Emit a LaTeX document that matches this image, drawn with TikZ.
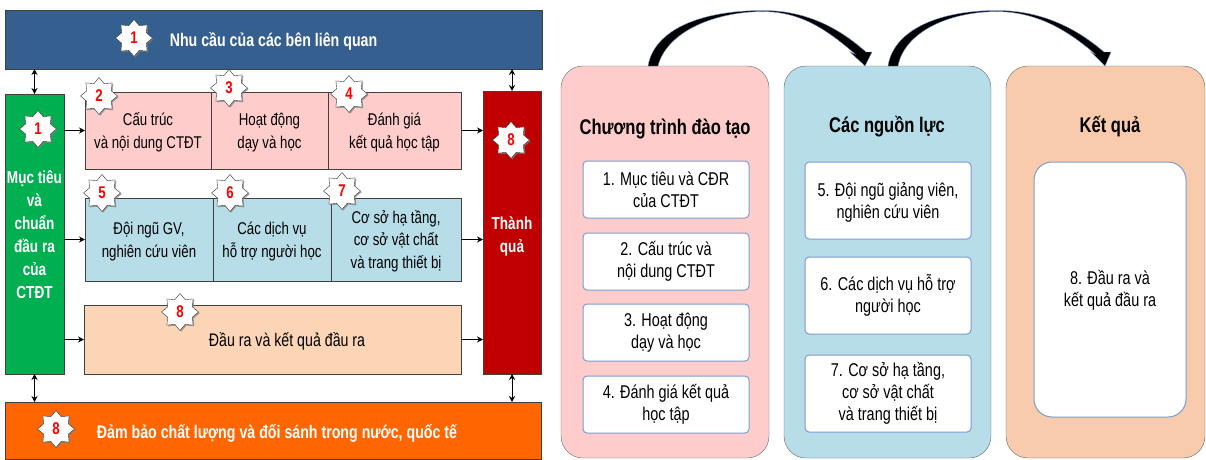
\documentclass[tikz,border=0pt]{standalone}
\usepackage{fontspec}
\setmainfont[FakeStretch=0.78]{Liberation Sans}
\usetikzlibrary{arrows.meta,shapes.geometric,shadows}
\definecolor{needsblue}{HTML}{355F8F}
\definecolor{goalgreen}{HTML}{00B050}
\definecolor{resultred}{HTML}{C00000}
\definecolor{qualityorange}{HTML}{FF6600}
\definecolor{rowpink}{HTML}{FFCCCC}
\definecolor{rowblue}{HTML}{B7DDE8}
\definecolor{rowpeach}{HTML}{FBD5B5}
\definecolor{panelpeach}{HTML}{F8CBAD}
\definecolor{innerline}{HTML}{7C9BD0}
\newcommand{\topgap}[1]{\rule{0pt}{#1pt}}
\tikzset{>={Stealth[length=6pt,width=6pt]}}
\tikzstyle{block} = [draw=black!75, inner sep=1pt, outer sep=0pt, align=center, font=\fontsize{17}{23.5}\selectfont]
\tikzstyle{whiteblock} = [block, text=white, font=\fontsize{17.4}{23}\selectfont\bfseries]
\tikzstyle{badge} = [star, star points=8, star point ratio=1.38, minimum size=37pt, inner sep=0pt, draw=black!80, fill=white, text=red, font=\fontsize{17}{17}\selectfont\bfseries, drop shadow={shadow xshift=1.2pt, shadow yshift=-1.2pt, opacity=.7}]
\tikzstyle{panel} = [draw=black!60, rounded corners=22pt, outer sep=0pt]
\tikzstyle{panelbox} = [draw=innerline, line width=1pt, fill=white, rounded corners=4pt, outer sep=0pt, inner sep=1pt, align=center, font=\fontsize{18.5}{22}\selectfont]
\tikzstyle{paneltitle} = [font=\fontsize{21.2}{21}\selectfont\bfseries]
\tikzstyle{link} = [line width=1pt]
\tikzstyle{bigcurve} = [fill=black, draw=innerline, line width=.4pt]

\begin{document}
\begin{tikzpicture}[x=1pt, y=-1pt]
\useasboundingbox (0,0) rectangle (1206,459);

% left part
\node [whiteblock, fill=needsblue, minimum width=537pt, minimum height=59pt, font=\fontsize{18.2}{20}\selectfont\bfseries] (needs) at (273.5,39.5) {\topgap{17}Nhu cầu của các bên liên quan};
\node [whiteblock, fill=goalgreen, minimum width=59pt, minimum height=280pt] (goal) at (34.5,234) {\topgap{15}Mục tiêu\\và\\chuẩn\\đầu ra\\của\\CTĐT};
\node [whiteblock, fill=resultred, minimum width=58pt, minimum height=283pt] (outcome) at (512,232.5) {\topgap{21}Thành\\quả};
\node [whiteblock, fill=qualityorange, minimum width=536pt, minimum height=57pt, font=\fontsize{18.2}{20}\selectfont\bfseries] (quality) at (273,430.5) {\topgap{19}\hspace*{8pt}Đảm bảo chất lượng và đối sánh trong nước, quốc tế};

\node [block, fill=rowpink, minimum width=126pt, minimum height=77pt] (structure) at (148,130.5) {\topgap{17}Cấu trúc\\và nội dung CTĐT};
\node [block, fill=rowpink, minimum width=117pt, minimum height=77pt] (teaching) at (269.5,130.5) {\topgap{17}Hoạt động\\dạy và học};
\node [block, fill=rowpink, minimum width=133pt, minimum height=77pt] (assess) at (394.5,130.5) {\topgap{17}Đánh giá\\kết quả học tập};

\node [block, fill=rowblue, minimum width=128pt, minimum height=83pt] (staff) at (149,239.5) {\topgap{17}Đội ngũ GV,\\nghiên cứu viên};
\node [block, fill=rowblue, minimum width=118pt, minimum height=83pt] (service) at (272,239.5) {\topgap{17}Các dịch vụ\\hỗ trợ người học};
\node [block, fill=rowblue, minimum width=130pt, minimum height=83pt, font=\fontsize{17}{22.5}\selectfont] (facility) at (396,239.5) {\topgap{16}Cơ sở hạ tầng,\\cơ sở vật chất\\và trang thiết bị};

\node [block, fill=rowpeach, minimum width=377pt, minimum height=69pt, font=\fontsize{18.2}{22}\selectfont] (output) at (272.5,339.5) {\topgap{18}\hspace*{29pt}Đầu ra và kết quả đầu ra};

\foreach \n/\px/\py [count=\i] in {1/134/38, 1/38/129, 2/99/96, 3/229/88, 4/349/94, 5/102/193, 6/230/193, 7/342/191, 8/511/140, 8/180/312, 8/56/429}
  \node [badge] (badge-\i) at (\px,\py) {\n};

\draw [link, <->] (goal.north) -- (goal.north |- needs.south);
\draw [link, <->] (outcome.north) -- (outcome.north |- needs.south);
\draw [link, <->] (goal.south) -- (goal.south |- quality.north);
\draw [link, <->] (outcome.south) -- (outcome.south |- quality.north);

\foreach \a in {structure,staff,output}
  \draw [link, ->] (goal.east |- \a.west) -- (\a.west);
\foreach \a in {assess,facility,output}
  \draw [link, ->] (\a.east) -- (\a.east -| outcome.west);

% right part
\node [panel, fill=rowpink, minimum width=208pt, minimum height=392pt] (program) at (665,262) {};
\node [panel, fill=rowblue, minimum width=207pt, minimum height=392pt] (resource) at (887.5,262) {};
\node [panel, fill=panelpeach, minimum width=199pt, minimum height=392pt] (result) at (1105.5,262) {};

\node [paneltitle] (program-title) at (665,129) {Chương trình đào tạo};
\node [paneltitle] (resource-title) at (887,127) {Các nguồn lực};
\node [paneltitle] (result-title) at (1110,127) {Kết quả};

\foreach \l/\py [count=\i] in {{1. Mục tiêu và CĐR\\của CTĐT}/189.5, {2. Cấu trúc và\\nội dung CTĐT}/261.5, {3. Hoạt động\\dạy và học}/332.5, {4. Đánh giá kết quả\\học tập}/404.5}
  \node [panelbox, minimum width=166pt, minimum height=57pt] (program-\i) at (666,\py) {\l};

\foreach \l/\py [count=\i] in {{\topgap{17}5. Đội ngũ giảng viên,\\nghiên cứu viên}/200.5, {\topgap{16}6. Các dịch vụ hỗ trợ\\người học}/295.5, {7. Cơ sở hạ tầng,\\cơ sở vật chất\\và trang thiết bị}/393.5}
  \node [panelbox, minimum width=166pt, minimum height=77pt] (resource-\i) at (888,\py) {\l};

\node [panelbox, rounded corners=18pt, minimum width=152pt, minimum height=255pt] (result-1) at (1110,289.5) {\topgap{16}8. Đầu ra và\\kết quả đầu ra};

\coordinate (curve-a) at ([xshift=-17pt]program.north);
\coordinate (curve-b) at ([xshift=-7pt]program.north);
\coordinate (curve-c) at ([xshift=-22.5pt]resource.north);
\coordinate (curve-d) at ([xshift=0.5pt]resource.north);
\coordinate (curve-e) at ([xshift=10.5pt]resource.north);
\coordinate (curve-f) at ([xshift=-0.5pt]result.north);

\draw [bigcurve] (curve-a) .. controls (654,30) and (700,10.5) .. (763,10.5)
  .. controls (805,10.5) and (838,27) .. (866,52) -- (872,52) -- (curve-c) -- (850,52) -- (855,54)
  .. controls (825,28) and (800,12) .. (763,11.5)
  .. controls (710,12) and (666,34) .. (curve-b) -- cycle;
\draw [bigcurve] (curve-d) .. controls (893,32) and (935,10.5) .. (997,10.5)
  .. controls (1040,10.5) and (1075,27) .. (1104,52) -- (1111,52) -- (curve-f) -- (1091,52) -- (1095,54)
  .. controls (1065,28) and (1035,12) .. (997,11.5)
  .. controls (945,12) and (904,34) .. (curve-e) -- cycle;

\end{tikzpicture}
\end{document}
